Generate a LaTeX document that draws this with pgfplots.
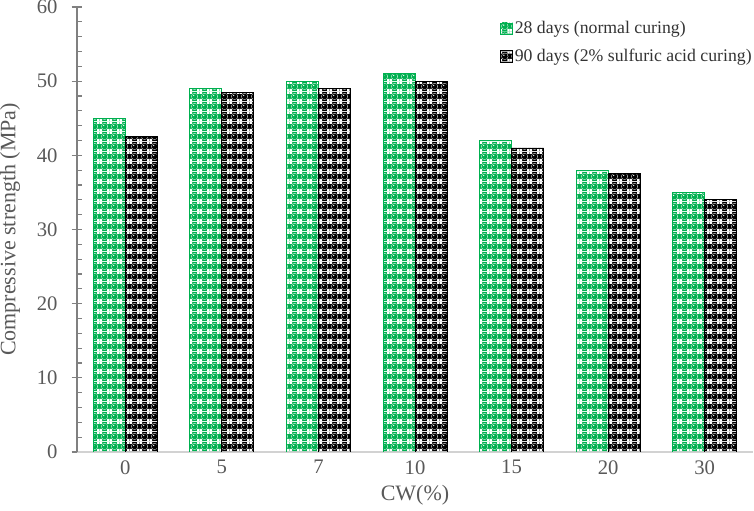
\documentclass[border=0pt]{standalone}
\usepackage{pgfplots}
\pgfplotsset{compat=1.18}
\usetikzlibrary{patterns}
\usepackage{fontspec}
\setmainfont{Liberation Serif}
\definecolor{barg}{RGB}{0,176,80}
\definecolor{txtgray}{RGB}{89,89,89}
\definecolor{axgray}{RGB}{128,128,128}
\definecolor{axlight}{RGB}{210,210,210}
% tile 7.5pt: circle in the centre, white squares at the corners
\newcommand\patbody[1]{%
  \pgfsetfillcolor{#1}%
  \pgfpathrectangle{\pgfpointorigin}{\pgfqpoint{7.5pt}{7.5pt}}\pgfusepath{fill}%
  \pgfsetfillcolor{white}%
  \pgfpathrectangle{\pgfqpoint{0pt}{0pt}}{\pgfqpoint{1.7pt}{1.7pt}}%
  \pgfpathrectangle{\pgfqpoint{5.8pt}{0pt}}{\pgfqpoint{1.7pt}{1.7pt}}%
  \pgfpathrectangle{\pgfqpoint{0pt}{5.8pt}}{\pgfqpoint{1.7pt}{1.7pt}}%
  \pgfpathrectangle{\pgfqpoint{5.8pt}{5.8pt}}{\pgfqpoint{1.7pt}{1.7pt}}%
  \pgfusepath{fill}%
  \pgfpathcircle{\pgfqpoint{3.75pt}{3.75pt}}{2.75pt}\pgfusepath{fill}%
  \pgfsetfillcolor{#1}%
  \pgfpathcircle{\pgfqpoint{3.75pt}{3.75pt}}{2.4pt}\pgfusepath{fill}%
  \pgfsetfillcolor{white}%
  \pgfpathcircle{\pgfqpoint{3.0pt}{4.6pt}}{0.6pt}\pgfusepath{fill}%
}
\pgfdeclarepatterninherentlycolored{greenpat}{\pgfpointorigin}{\pgfqpoint{7.5pt}{7.5pt}}{\pgfqpoint{7.5pt}{7.5pt}}{\patbody{barg}}
\pgfdeclarepatterninherentlycolored{blackpat}{\pgfpointorigin}{\pgfqpoint{7.5pt}{7.5pt}}{\pgfqpoint{7.5pt}{7.5pt}}{\patbody{black}}
\begin{document}
\fontsize{13.3pt}{16pt}\selectfont
\begin{tikzpicture}
\begin{axis}[
  name=ax,
  scale only axis,
  width=507pt, height=333.75pt,
  ybar=0pt, bar width=24pt,
  xmin=-0.5, xmax=6.5,
  ymin=0, ymax=60,
  xtick=data,
  xticklabels={0,5,7,10,15,20,30},
  ytick={0,10,...,60},
  minor y tick num=4,
  axis lines*=left,
  x axis line style={draw=axlight, line width=0.8pt},
  y axis line style={draw=axgray, line width=0.8pt},
  xtick style={draw=none},
  ytick style={draw=axgray, line width=0.8pt},
  tick align=center,
  major tick length=8pt,
  minor tick length=3.75pt,
  minor y tick style={xshift=1.875pt},
  /pgf/number format/assume math mode=true,
  ticklabel style={text=txtgray, font=\fontsize{15.5pt}{18pt}\selectfont},
  xticklabel style={yshift=0pt, inner sep=2pt},
  yticklabel style={xshift=-6pt},
  every axis y label/.style={at={(axis description cs:-0.099,0.5)}, rotate=90, anchor=center, text=txtgray, font=\fontsize{16.5pt}{19pt}\selectfont},
  every axis x label/.style={at={(axis description cs:0.5,-0.096)}, anchor=center, inner sep=1pt, text=txtgray, font=\fontsize{16.5pt}{19pt}\selectfont},
  ylabel={Compressive strength (MPa)},
  xlabel={CW(\%)},
  legend cell align=left,
  legend style={draw=none, fill=none, at={(axis description cs:0.62,0.979)}, anchor=north west,
    row sep=6.25pt, nodes={inner sep=1.5pt, text=black!80}},
  legend image code/.code={\draw[#1] (0pt,-4.35pt) rectangle (8.7pt,4.35pt);},
]
\addplot[draw=barg, line width=0.6pt, pattern=greenpat] coordinates {(0,45) (1,49) (2,50) (3,51) (4,42) (5,38) (6,35)};
\addplot[draw=black, line width=0.6pt, pattern=blackpat] coordinates {(0,42.5) (1,48.5) (2,49) (3,50) (4,41) (5,37.5) (6,34)};
\legend{28 days (normal curing), 90 days (2\% sulfuric acid curing)}
\end{axis}
\pgfresetboundingbox
\path ([xshift=-57.75pt,yshift=-44.25pt]ax.south west) rectangle ([xshift=0.75pt,yshift=5.25pt]ax.north east);
\end{tikzpicture}
\end{document}
